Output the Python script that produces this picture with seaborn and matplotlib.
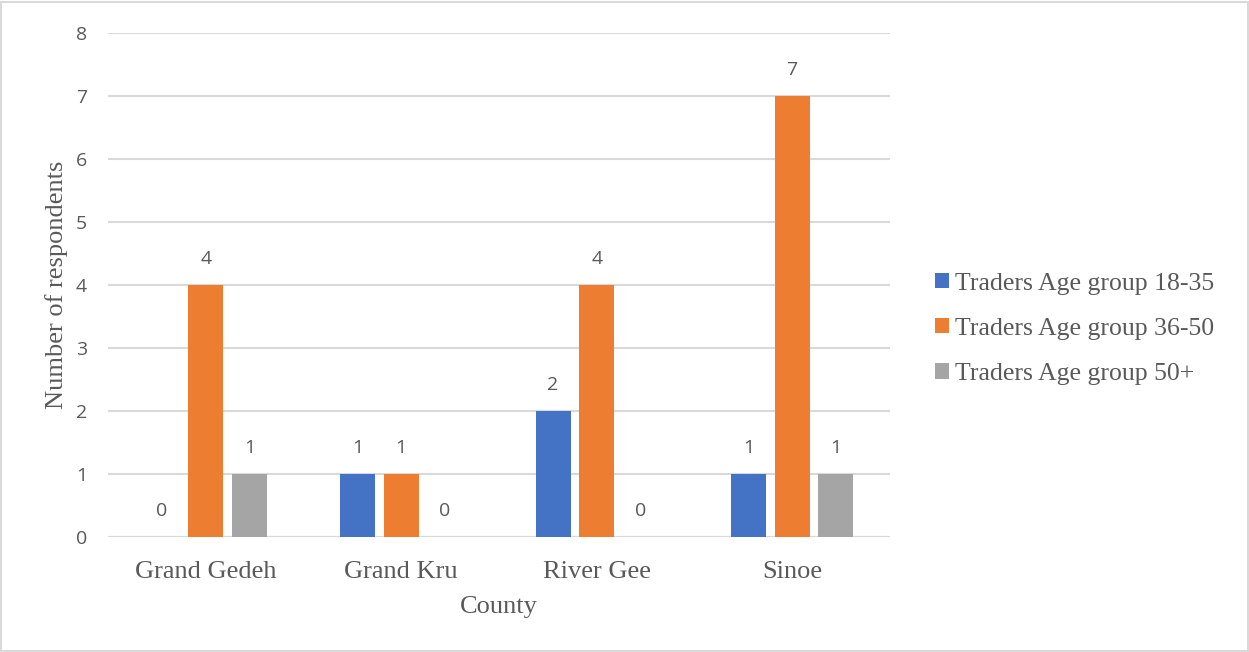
import seaborn as sns
import matplotlib.pyplot as plt
import pandas as pd
from matplotlib.patches import Rectangle

# data
counties = ['Grand Gedeh', 'Grand Kru', 'River Gee', 'Sinoe']
age_groups = ['Traders Age group 18-35', 'Traders Age group 36-50', 'Traders Age group 50+']
age_18_35 = [0, 1, 2, 1]
age_36_50 = [4, 1, 4, 7]
age_50_plus = [1, 0, 0, 1]
colors = ['#4472C4', '#ED7D31', '#A5A5A5']

# long format table for seaborn
df = pd.DataFrame({
    'County': counties * 3,
    'Group': [g for g in age_groups for _ in counties],
    'Count': age_18_35 + age_36_50 + age_50_plus,
})

sns.set_style('white')
text_col = '#595959'
serif = 'Liberation Serif'
sans = 'Open Sans'

fig = plt.figure(figsize=(12.49, 6.52), dpi=100)
ax = fig.add_axes([0.0865, 0.1764, 0.626, 0.773])

sns.barplot(data=df, x='County', y='Count', hue='Group', hue_order=age_groups,
            palette=colors, width=0.67, gap=0.2, saturation=1, ax=ax,
            legend=True, errorbar=None, linewidth=0)

# value labels on top of each bar
for cont in ax.containers:
    ax.bar_label(cont, fmt='%d', padding=12, color=text_col,
                 fontsize=14, family=sans)

ax.set_ylim(0, 8)
ax.set_xlim(-0.5, 3.5)
ax.set_yticks(range(9))
ax.yaxis.grid(True, color='#D9D9D9', linewidth=1.5)
ax.set_axisbelow(True)
for s in ax.spines.values():
    s.set_visible(False)
ax.axhline(0, color='#D9D9D9', linewidth=1.5, zorder=0.5)

ax.tick_params(axis='y', length=0, pad=15, labelcolor=text_col, labelsize=14)
ax.tick_params(axis='x', length=0, pad=17, labelcolor=text_col, labelsize=19)
for lab in ax.get_yticklabels():
    lab.set_family(sans)
for lab in ax.get_xticklabels():
    lab.set_family(serif)

ax.set_xlabel('County', family=serif, fontsize=19, color=text_col, labelpad=10)
ax.set_ylabel('Number of respondents', family=serif, fontsize=19,
              color=text_col, labelpad=6)

# legend to the right
ax.legend(loc='center left', bbox_to_anchor=(1.028, 0.413), frameon=False,
          prop={'family': serif, 'size': 18.5}, labelcolor=text_col,
          handlelength=0.55, handleheight=0.55, handletextpad=0.25,
          labelspacing=0.9)

# light chart-area border
fig.patches.append(Rectangle((0.001, 0.002), 0.998, 0.995, transform=fig.transFigure,
                             fill=False, edgecolor='#D9D9D9', linewidth=1.5))

fig.savefig('out.png', dpi=100)
